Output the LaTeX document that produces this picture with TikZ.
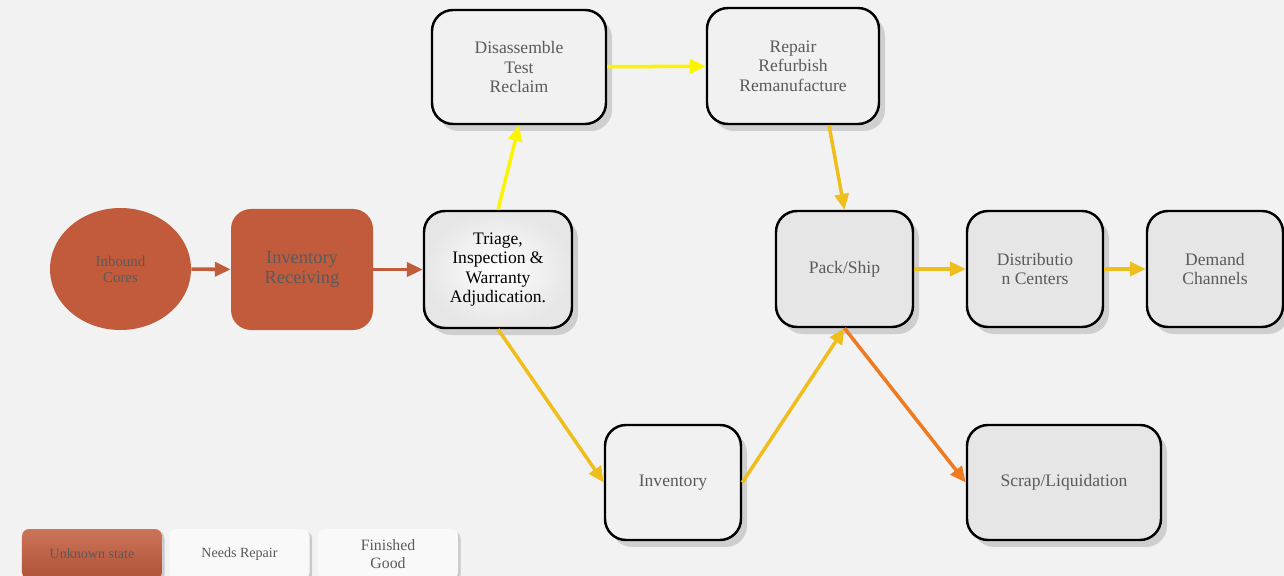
\documentclass[tikz,border=0pt]{standalone}
\usepackage{fontspec}
\setmainfont{Liberation Serif}
\usetikzlibrary{arrows.meta,shadows,shapes.geometric}

\definecolor{bgcol}{HTML}{F2F2F2}
\definecolor{rust}{HTML}{C25B3C}
\definecolor{lemon}{HTML}{FAF400}
\definecolor{gold}{HTML}{EEBE1C}
\definecolor{tangerine}{HTML}{EE7A22}
\definecolor{greytext}{HTML}{5A5A5A}
\definecolor{boxfill}{HTML}{F1F1F1}
\definecolor{donefill}{HTML}{E6E6E6}

\tikzset{
  stage/.style={draw=black, line width=1.4pt, rounded corners=0.42cm, fill=boxfill,
    text=greytext, align=center, minimum width=2.72cm, minimum height=2.3cm,
    font=\fontsize{10}{11}\selectfont,
    drop shadow={shadow xshift=0.12cm, shadow yshift=-0.14cm, opacity=0.3}},
  donestage/.style={stage, fill=donefill},
  redstage/.style={fill=rust, text=greytext, align=center, rounded corners=0.4cm},
  legendbox/.style={rounded corners=0.14cm, align=center, minimum width=2.8cm,
    minimum height=1cm, text=greytext, fill=white!60!boxfill,
    drop shadow={shadow xshift=0.05cm, shadow yshift=-0.05cm, opacity=0.35},
    font=\fontsize{8}{9}\selectfont},
  flow/.style={line width=2pt, -{Triangle[length=9pt,width=8pt]}},
}

\begin{document}
\begin{tikzpicture}
    \fill[bgcol] (0,0) rectangle (25.68,-11.52);
    \useasboundingbox (0,0) rectangle (25.68,-11.52);

    % incoming side
    \node[redstage, ellipse, minimum width=2.82cm, minimum height=2.44cm,
      font=\fontsize{8.5}{9}\selectfont] at (2.41,-5.38) (inbound) {Inbound\\Cores};
    \node[redstage, minimum width=2.84cm, minimum height=2.42cm,
      font=\fontsize{10.5}{11.5}\selectfont] at (6.04,-5.39) (receiving) {Inventory\\Receiving};
    \node[stage, text=black, minimum width=2.96cm, minimum height=2.34cm,
      shading=radial, inner color=white, outer color=donefill] at (9.96,-5.39) (triage)
      {Triage,\\Inspection \&\\Warranty\\Adjudication.};

    % repair loop
    \node[stage, minimum width=3.48cm, minimum height=2.28cm] at (10.38,-1.34) (disassemble)
      {Disassemble\\Test\\Reclaim};
    \node[stage, minimum width=3.44cm, minimum height=2.32cm] at (15.86,-1.32) (repair)
      {Repair\\Refurbish\\Remanufacture};
    \node[stage] at (13.46,-9.65) (inventory) {Inventory};

    % outgoing side
    \node[donestage, minimum width=2.74cm, minimum height=2.32cm] at (16.89,-5.38) (packship) {Pack/Ship};
    \node[donestage, minimum height=2.32cm] at (20.70,-5.38) (distribution) {Distributio\\n Centers};
    \node[donestage, minimum height=2.32cm] at (24.30,-5.38) (demand) {Demand\\Channels};
    \node[donestage, minimum width=3.88cm] at (21.28,-9.65) (scrap) {Scrap/Liquidation};

    \draw[flow, rust] (inbound) -- (receiving);
    \draw[flow, rust] (receiving) -- (triage);
    \draw[flow, lemon] (triage.north) -- (disassemble.south);
    \draw[flow, lemon] (disassemble) -- (repair);
    \draw[flow, gold] ([xshift=0.72cm]repair.south) -- (packship.north);
    \draw[flow, gold] (triage.south) -- (inventory.west);
    \draw[flow, gold] (inventory.east) -- (packship.south);
    \draw[flow, tangerine] (packship.south) -- (scrap.west);
    \draw[flow, gold] (packship) -- (distribution);
    \draw[flow, gold] (distribution) -- (demand);

    % legend
    \node[legendbox, top color=rust!85!white, bottom color=rust!90!black] at (1.84,-11.08) (unknown) {Unknown state};
    \node[legendbox] at (4.79,-11.08) (needsrepair) {Needs Repair};
    \node[legendbox, font=\fontsize{9}{10}\selectfont] at (7.76,-11.08) (finished) {Finished\\Good};
\end{tikzpicture}
\end{document}
